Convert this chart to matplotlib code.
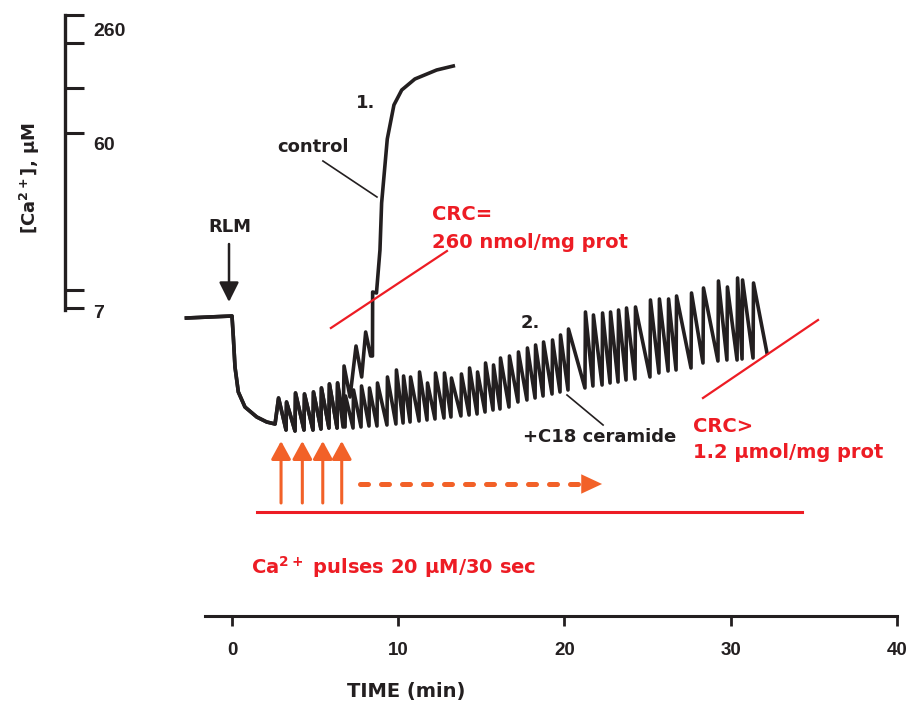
import matplotlib
matplotlib.use('Agg')
import matplotlib.pyplot as plt

plt.rcParams['font.family'] = ['DejaVu Sans']
plt.rcParams['font.weight'] = 'bold'
plt.rcParams['mathtext.fontset'] = 'custom'
plt.rcParams['mathtext.rm'] = 'DejaVu Sans:bold'
plt.rcParams['mathtext.it'] = 'DejaVu Sans:bold'
plt.rcParams['mathtext.bf'] = 'DejaVu Sans:bold'
plt.rcParams['mathtext.default'] = 'rm'

BLACK = '#231f20'
RED = '#ed1c24'
ORANGE = '#f26128'
NUMFONT = ['Liberation Sans', 'DejaVu Sans']

# ---------------- data (time in min, electrode signal in a.u.) ----------------
# baseline and RLM addition (shared by both traces)
pre_t = [-2.74, 0.0, 0.08, 0.18, 0.38, 0.78, 1.49, 2.09, 2.59]
pre_y = [38.2, 38.4, 36.3, 33.3, 30.8, 29.3, 28.3, 27.8, 27.6]

# Ca2+ pulses, trace 2 (+C18 ceramide): pulse time, peak, trough before next pulse
pulse_t = [2.77, 3.25, 3.79, 4.33, 4.87, 5.35, 5.83, 6.32, 6.80, 7.28,
           7.76, 8.24, 8.72, 9.32, 9.86, 10.29, 10.71, 11.25, 11.73, 12.21,
           12.75, 13.17, 13.77, 14.26, 14.74, 15.22, 15.70, 16.12, 16.66, 17.20,
           17.74, 18.23, 18.71, 19.25, 19.73, 20.21, 21.23, 21.71, 22.26, 22.74,
           23.22, 23.70, 24.24, 25.14, 25.68, 26.23, 26.71, 27.61, 28.33, 29.23,
           29.77, 30.38, 30.68, 31.34]
pulse_peak = [30.2, 29.8, 30.7, 30.6, 30.8, 31.2, 31.6, 31.7, 30.4, 31.0,
              31.4, 31.2, 31.7, 32.3, 33.0, 32.4, 32.3, 32.8, 31.7, 32.7,
              32.7, 32.2, 32.6, 33.2, 32.8, 33.7, 33.5, 34.2, 34.4, 34.8,
              35.2, 35.5, 35.8, 36.0, 36.5, 37.1, 38.8, 38.5, 38.7, 38.8,
              39.0, 39.2, 39.3, 40.0, 40.1, 40.1, 40.4, 40.7, 41.2, 41.9,
              41.3, 42.2, 42.0, 41.7]
pulse_trough = [27.0, 26.9, 27.0, 27.0, 27.1, 27.2, 27.2, 27.3, 27.2, 27.3,
                27.4, 27.4, 27.5, 27.6, 27.7, 27.8, 27.9, 28.0, 28.1, 28.2,
                28.3, 28.4, 28.5, 28.6, 28.8, 29.0, 29.1, 29.3, 29.8, 30.0,
                30.2, 30.4, 30.6, 30.8, 31.0, 31.2, 31.4, 31.5, 31.7, 31.8,
                32.0, 32.1, 32.3, 32.7, 32.9, 33.0, 33.2, 33.7, 33.9, 34.0,
                34.0, 34.1, 34.2, 34.7]
trace2_end_t = 32.18

# trace 1 (control): shares the first pulses, then its own course
n_shared = 8
ctrl_t = [6.74, 7.10, 7.46, 7.80, 8.04, 8.34, 8.45, 8.46, 8.69, 8.90,
          9.00, 9.34, 9.74, 10.21, 11.00, 12.31, 13.31]
ctrl_y = [33.4, 30.3, 35.4, 32.3, 36.8, 34.4, 34.4, 40.8, 40.7, 45.0,
          49.7, 56.1, 59.5, 61.0, 62.1, 63.0, 63.4]

# axes / scale bar
time_ticks = [0, 10, 20, 30, 40]
ca_tick_pos = [68.5, 65.7, 61.2, 56.7, 41.0, 39.2]
ca_labels = ['260', '60', '7']
ca_label_pos = [66.8, 55.4, 38.7]


def sawtooth(t0, y0, ts, peaks, troughs, t_next):
    xs, ys = [t0], [y0]
    for i in range(len(ts)):
        xs += [ts[i] + 0.03]
        ys += [peaks[i]]
        nxt = ts[i + 1] if i + 1 < len(ts) else t_next
        xs += [nxt]
        ys += [troughs[i]]
    return xs, ys


fig = plt.figure(figsize=(9.08, 7.01), dpi=100)
ax = fig.add_axes([0, 0, 1, 1])
ax.set_xlim(-13.955, 40.662)
ax.set_ylim(-0.1, 70)
ax.patch.set_alpha(0)

# trace 2
x2, y2 = sawtooth(pre_t[-1], pre_y[-1], pulse_t, pulse_peak, pulse_trough, trace2_end_t)
ax.plot(pre_t + x2, pre_y + y2, color=BLACK, lw=2.6, solid_joinstyle='round', zorder=3)

# trace 1 (control)
x1, y1 = sawtooth(pre_t[-1], pre_y[-1], pulse_t[:n_shared], pulse_peak[:n_shared],
                  pulse_trough[:n_shared], ctrl_t[0] - 0.06)
ax.plot(pre_t + x1 + ctrl_t, pre_y + y1 + ctrl_y, color=BLACK, lw=2.6,
        solid_joinstyle='round', zorder=3)

# spines
for s in ['top', 'right']:
    ax.spines[s].set_visible(False)
ax.spines['bottom'].set_position(('data', 8.4))
ax.spines['bottom'].set_bounds(-1.62, 40)
ax.spines['bottom'].set_linewidth(2.2)
ax.spines['bottom'].set_color(BLACK)
ax.spines['left'].set_position(('data', -10.05))
ax.spines['left'].set_bounds(39.0, 68.5)
ax.spines['left'].set_linewidth(2.4)
ax.spines['left'].set_color(BLACK)

ax.set_xticks(time_ticks)
ax.set_xticklabels([str(v) for v in time_ticks], family=NUMFONT, fontsize=13.5)
ax.tick_params(axis='x', direction='out', length=7, width=2, color=BLACK,
               pad=12, labelcolor=BLACK)
ax.set_yticks(ca_tick_pos)
ax.set_yticklabels([''] * len(ca_tick_pos))
ax.tick_params(axis='y', direction='in', length=14, width=2.2, color=BLACK)

for lab, pos in zip(ca_labels, ca_label_pos):
    ax.text(-8.35, pos, lab, fontsize=14, family=NUMFONT, ha='left', va='center',
            color=BLACK)
ax.text(-12.15, 52.2, '[Ca$^{2+}$], μM', rotation=90, fontsize=13,
        ha='center', va='center', color=BLACK)
ax.text(10.45, 0.9, 'TIME (min)', fontsize=14, ha='center', va='center', color=BLACK)

# annotations
ax.text(8.06, 59.7, '1.', fontsize=13, ha='center', va='center', color=BLACK)
ax.text(17.92, 37.7, '2.', fontsize=13, ha='center', va='center', color=BLACK)
ax.text(4.87, 55.3, 'control', fontsize=13, ha='center', va='center', color=BLACK)
ax.plot([5.47, 8.72], [53.9, 50.3], color=BLACK, lw=1.2)
ax.text(17.5, 26.3, '+C18 ceramide', fontsize=13, ha='left', va='center', color=BLACK)
ax.plot([20.15, 22.32], [30.5, 27.5], color=BLACK, lw=1.2)

ax.text(-0.12, 47.3, 'RLM', fontsize=13, ha='center', va='center', color=BLACK)
ax.annotate('', xy=(-0.18, 39.8), xytext=(-0.18, 45.6),
            arrowprops=dict(arrowstyle='-|>,head_length=0.6,head_width=0.3',
                            mutation_scale=20, lw=1.8, color=BLACK,
                            shrinkA=0, shrinkB=0))

ax.text(12.03, 48.5, 'CRC=', fontsize=14, ha='left', va='center', color=RED)
ax.text(12.03, 45.8, '260 nmol/mg prot', fontsize=14, ha='left', va='center', color=RED)
ax.plot([5.95, 12.93], [37.2, 44.9], color=RED, lw=1.6, zorder=4)

ax.text(27.73, 27.4, 'CRC>', fontsize=14, ha='left', va='center', color=RED)
ax.text(27.73, 24.8, '1.2 μmol/mg prot', fontsize=14, ha='left', va='center', color=RED)
ax.plot([28.33, 35.25], [30.2, 38.0], color=RED, lw=1.6, zorder=4)

# Ca2+ pulse arrows
for xa in [2.95, 4.23, 5.46, 6.60]:
    ax.annotate('', xy=(xa, 25.9), xytext=(xa, 19.7),
                arrowprops=dict(arrowstyle='-|>,head_length=0.55,head_width=0.3',
                                mutation_scale=20, lw=2.2, color=ORANGE,
                                shrinkA=0, shrinkB=0))
ax.plot([7.70, 21.2], [21.6, 21.6], color=ORANGE, lw=3.6,
        linestyle=(0, (1.6, 2.6)), dash_capstyle='round')
ax.annotate('', xy=(22.26, 21.6), xytext=(21.0, 21.6),
            arrowprops=dict(arrowstyle='-|>,head_length=0.75,head_width=0.35',
                            mutation_scale=20, lw=0, color=ORANGE,
                            shrinkA=0, shrinkB=0))
ax.plot([1.5, 34.29], [18.8, 18.8], color=RED, lw=2.2)
ax.text(1.14, 13.3, 'Ca$^{2+}$ pulses 20 μM/30 sec', fontsize=14, ha='left',
        va='center', color=RED)

fig.savefig('out.png', dpi=100)
